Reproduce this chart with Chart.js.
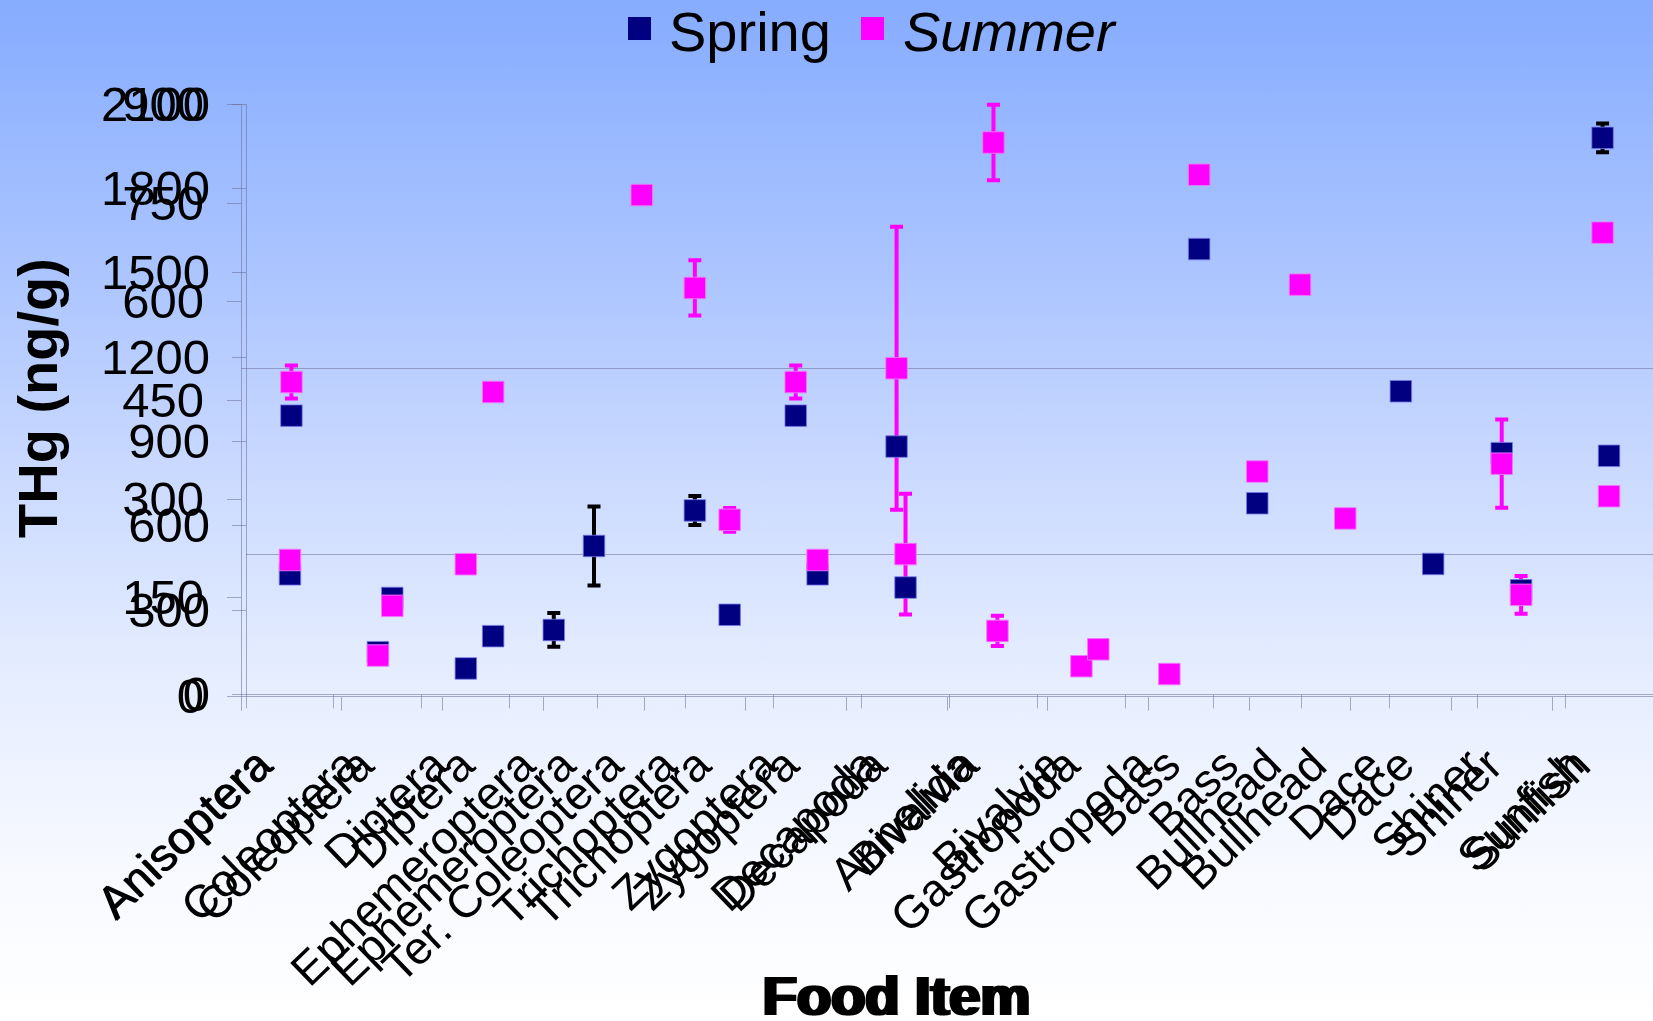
<!DOCTYPE html>
<html>
<head>
<meta charset="utf-8">
<title>THg by food item</title>
<script src="https://cdn.jsdelivr.net/npm/chart.js@4.4.1/dist/chart.umd.min.js"></script>
<style>
  html, body { margin: 0; padding: 0; }
  body {
    width: 1653px; height: 1021px; overflow: hidden;
    background: linear-gradient(to bottom, #86acff 0%, #a9c3ff 25%, #c8d8ff 45%, #e4ecff 65%, #f7f9ff 85%, #ffffff 100%);
  }
  #wrap { position: relative; width: 1653px; height: 1021px; }
  canvas { position: absolute; left: 0; top: 0; }
</style>
</head>
<body>
<div id="wrap">
  <canvas id="panelWide" width="1653" height="1021"></canvas>
  <canvas id="panelNarrow" width="1653" height="1021"></canvas>
</div>
<script>
// ---- data: total mercury (ng/g) per food item ----
const foodItems = ['Anisoptera', 'Coleoptera', 'Diptera', 'Ephemeroptera', 'Ter. Coleoptera',
  'Trichoptera', 'Zygoptera', 'Decapoda', 'Annelida', 'Bivalvia', 'Gastropoda',
  'Bass', 'Bullhead', 'Dace', 'Shiner', 'Sunfish'];
const springTHg = [427, 150, 92, 229, null, 283, 427, 380, null, null, null, 680, null, 464, 370, 849];
const summerTHg = [478, 138, 463, null, 1777, 621, 478, 499, 1964, 100, 72, 793, 626, null, 354, 705];
const springErr = [null, null, null, 60, null, 22, null, null, null, null, null, null, null, null, null, 22];
const summerErr = [25, null, null, null, null, 42, 25, 215, 134, 23, null, null, null, null, 67, null];

// items shown on the second (0-900) panel
const narrowItems = ['Anisoptera', 'Coleoptera', 'Diptera', 'Ephemeroptera', 'Trichoptera',
  'Zygoptera', 'Decapoda', 'Bivalvia', 'Gastropoda', 'Bass', 'Bullhead', 'Dace', 'Shiner', 'Sunfish'];

// y tick labels of the two panels
const wideTicks = [0, 300, 600, 900, 1200, 1500, 1800, 2100];
const narrowTicks = [0, 150, 300, 450, 600, 750, 900];
const refLineValue = 500;

// ---- styling ----
const FONT = '"Liberation Sans", Arial, Helvetica, sans-serif';
const SPRING = '#000080';
const SUMMER = '#ff00ff';
const AXIS = 'rgba(105,110,150,0.55)';

function pick(values, items) {
  return items.map(n => values[foodItems.indexOf(n)]);
}

// vertical error bars with caps, drawn under the markers
const errorBarPlugin = {
  id: 'errorBars',
  beforeDatasetsDraw(chart) {
    const { ctx } = chart;
    const ys = chart.scales.y;
    chart.data.datasets.forEach((ds, di) => {
      if (!ds.errors) return;
      const meta = chart.getDatasetMeta(di);
      ctx.save();
      ctx.strokeStyle = ds.errorColor;
      ctx.lineWidth = 4;
      ds.data.forEach((v, i) => {
        const e = ds.errors[i];
        if (v == null || e == null) return;
        const x = meta.data[i].x;
        const yt = ys.getPixelForValue(v + e);
        const yb = ys.getPixelForValue(v - e);
        ctx.beginPath();
        ctx.moveTo(x, yt); ctx.lineTo(x, yb);
        ctx.moveTo(x - 6.5, yt); ctx.lineTo(x + 6.5, yt);
        ctx.moveTo(x - 6.5, yb); ctx.lineTo(x + 6.5, yb);
        ctx.stroke();
      });
      ctx.restore();
    });
  }
};

// single horizontal reference line across the plot
const refLinePlugin = {
  id: 'refLine',
  beforeDatasetsDraw(chart, args, opts) {
    if (opts.value == null) return;
    const { ctx, chartArea } = chart;
    const py = Math.round(chart.scales.y.getPixelForValue(opts.value)) + 0.5;
    ctx.save();
    ctx.strokeStyle = AXIS;
    ctx.lineWidth = 1;
    ctx.beginPath();
    ctx.moveTo(chartArea.left, py);
    ctx.lineTo(chartArea.right, py);
    ctx.stroke();
    ctx.restore();
  }
};

// titles and legend
const decorPlugin = {
  id: 'decor',
  afterDraw(chart, args, opts) {
    const { ctx } = chart;
    (opts.swatches || []).forEach(s => {
      ctx.fillStyle = s.color;
      ctx.fillRect(s.x, s.y, s.size, s.size);
    });
    (opts.texts || []).forEach(t => {
      ctx.save();
      ctx.fillStyle = '#000';
      ctx.font = t.font;
      ctx.textAlign = t.align || 'left';
      ctx.textBaseline = 'alphabetic';
      ctx.translate(t.x, t.y);
      if (t.rotate) ctx.rotate(t.rotate);
      ctx.fillText(t.text, 0, 0);
      ctx.restore();
    });
  }
};

function makePanel(canvasId, items, cfg) {
  const ticks = cfg.ticks;
  return new Chart(document.getElementById(canvasId), {
    type: 'line',
    data: {
      labels: items,
      datasets: [
        {
          label: 'Spring',
          data: pick(springTHg, items),
          errors: pick(springErr, items),
          errorColor: '#000000',
          showLine: false,
          pointStyle: 'rect',
          pointRadius: 15.2,
          pointBackgroundColor: SPRING,
          pointBorderColor: 'rgba(120,120,230,0.8)',
          pointBorderWidth: 1,
          order: 1
        },
        {
          label: 'Summer',
          data: pick(summerTHg, items),
          errors: pick(summerErr, items),
          errorColor: SUMMER,
          showLine: false,
          pointStyle: 'rect',
          pointRadius: 15.2,
          pointBackgroundColor: SUMMER,
          pointBorderColor: 'rgba(240,120,255,0.9)',
          pointBorderWidth: 1,
          order: 0
        }
      ]
    },
    options: {
      responsive: false,
      animation: false,
      devicePixelRatio: 1,
      events: [],
      layout: { autoPadding: false, padding: { top: 104.3, left: 0, right: 0, bottom: 0 } },
      plugins: {
        legend: { display: false },
        tooltip: { enabled: false },
        refLine: { value: refLineValue },
        decor: cfg.decor
      },
      scales: {
        x: {
          type: 'category',
          offset: true,
          grid: { offset: true, drawOnChartArea: false, drawTicks: true, tickLength: 14, color: AXIS },
          border: { display: true, color: AXIS },
          ticks: {
            autoSkip: false, minRotation: 44, maxRotation: 44,
            padding: cfg.labelPad, labelOffset: -25,
            color: '#000', font: { family: FONT, size: 46 }
          },
          afterFit(s) { s.height = 1021 - cfg.plotBottom; s.paddingLeft = 0; s.paddingRight = 0; }
        },
        y: {
          min: ticks[0], max: ticks[ticks.length - 1],
          afterBuildTicks(s) { s.ticks = ticks.map(v => ({ value: v })); },
          grid: { drawOnChartArea: false, drawTicks: true, tickLength: 14, color: AXIS },
          border: { display: true, color: AXIS },
          ticks: {
            padding: cfg.tickPad, labelOffset: 3,
            callback: v => String(v),
            color: '#000', font: { family: FONT, size: 49 }
          },
          afterFit(s) { s.width = cfg.axisX; s.paddingTop = 0; s.paddingBottom = 0; }
        }
      }
    },
    plugins: [refLinePlugin, errorBarPlugin, decorPlugin]
  });
}

// 0-2100 panel with all food items, carries legend and y title
makePanel('panelWide', foodItems, {
  ticks: wideTicks,
  axisX: 246,
  plotBottom: 694.3,
  labelPad: 31,
  tickPad: 22,
  decor: {
    swatches: [
      { x: 628, y: 17, size: 23, color: SPRING },
      { x: 861, y: 17, size: 23, color: SUMMER }
    ],
    texts: [
      { text: 'Spring', x: 669, y: 51, font: '56px ' + FONT },
      { text: 'Summer', x: 903, y: 51, font: 'italic 56px ' + FONT },
      { text: 'THg (ng/g)', x: 57, y: 398, rotate: -Math.PI / 2, align: 'center', font: 'bold 56px ' + FONT },
      { text: 'Food Item', x: 898.5, y: 1015, align: 'center', font: 'bold 56px ' + FONT }
    ]
  }
});

// 0-900 panel laid over it
makePanel('panelNarrow', narrowItems, {
  ticks: narrowTicks,
  axisX: 241,
  plotBottom: 696.7,
  labelPad: 28.6,
  tickPad: 23,
  decor: {
    texts: [
      { text: 'Food Item', x: 894.5, y: 1015, align: 'center', font: 'bold 56px ' + FONT }
    ]
  }
});
</script>
</body>
</html>
